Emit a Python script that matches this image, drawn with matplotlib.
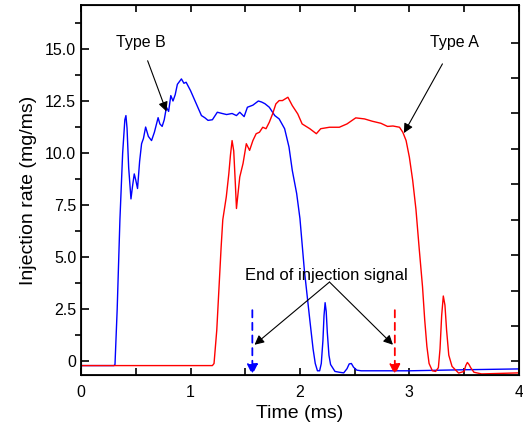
import matplotlib
matplotlib.use('Agg')
import numpy as np
import matplotlib.pyplot as plt

plt.rcParams['font.family'] = ['Liberation Sans', 'DejaVu Sans']

# Type B (blue) injection rate
t_b = [0.0, 0.30, 0.31, 0.33, 0.355, 0.38, 0.40, 0.41, 0.42, 0.435, 0.456, 0.47, 0.486, 0.50,
       0.516, 0.535, 0.553, 0.57, 0.59, 0.615, 0.644, 0.67, 0.704, 0.72, 0.741,
       0.76, 0.78, 0.80, 0.82, 0.84, 0.86, 0.88, 0.917, 0.94, 0.96, 1.0, 1.05,
       1.1, 1.13, 1.16, 1.2, 1.245, 1.29, 1.33, 1.38, 1.42, 1.45, 1.49, 1.52,
       1.57, 1.62, 1.65, 1.68, 1.72, 1.77, 1.81, 1.86, 1.9, 1.93, 1.97, 2.0,
       2.04, 2.09, 2.12, 2.14, 2.16, 2.18, 2.195, 2.21, 2.22, 2.23, 2.24, 2.25,
       2.265, 2.28, 2.32, 2.36, 2.4, 2.43, 2.45, 2.47, 2.49, 2.52, 2.56, 3.0, 3.5, 4.0]
q_b = [-0.2, -0.2, -0.15, 2.5, 6.8, 10.0, 11.6, 11.8, 11.2, 9.3, 7.8, 8.4, 9.0, 8.7,
       8.3, 9.6, 10.45, 10.7, 11.25, 10.8, 10.6, 11.0, 11.7, 11.4, 11.28,
       11.6, 12.2, 12.0, 12.76, 12.5, 12.8, 13.3, 13.56, 13.35, 13.4, 13.0, 12.4,
       11.8, 11.7, 11.57, 11.6, 11.96, 11.9, 11.85, 11.9, 11.8, 11.96, 11.75, 12.2,
       12.3, 12.5, 12.45, 12.37, 12.2, 11.8, 11.64, 11.17, 10.29, 9.17, 8.06, 6.86,
       4.4, 2.0, 0.6, -0.1, -0.45, -0.45, -0.1, 1.0, 2.2, 2.82, 2.4, 1.4,
       0.3, -0.15, -0.48, -0.52, -0.55, -0.35, -0.12, -0.1, -0.28, -0.42, -0.45, -0.45, -0.4, -0.36]

# Type A (red) injection rate
t_a = [0.0, 1.2, 1.215, 1.24, 1.26, 1.28, 1.295, 1.327, 1.35, 1.365, 1.38, 1.395, 1.41, 1.42,
       1.435, 1.45, 1.48, 1.51, 1.54, 1.57, 1.6, 1.63, 1.66, 1.69, 1.72, 1.75, 1.78,
       1.81, 1.84, 1.89, 1.93, 1.98, 2.02, 2.09, 2.15, 2.19, 2.27, 2.36, 2.43, 2.51,
       2.59, 2.66, 2.74, 2.8, 2.85, 2.91, 2.94, 2.97, 3.0, 3.03, 3.06, 3.09, 3.12,
       3.14, 3.16, 3.18, 3.21, 3.24, 3.265, 3.28, 3.295, 3.31, 3.325, 3.34, 3.36,
       3.39, 3.45, 3.5, 3.515, 3.53, 3.545, 3.56, 3.59, 3.66, 4.0]
q_a = [-0.2, -0.2, -0.1, 1.5, 3.5, 5.5, 6.8, 7.9, 9.0, 9.9, 10.6, 10.1, 8.5, 7.34,
       8.1, 8.85, 9.5, 10.45, 10.13, 10.6, 10.93, 11.0, 11.24, 11.17, 11.48, 11.88, 12.36,
       12.52, 12.52, 12.68, 12.28, 11.88, 11.4, 11.17, 10.93, 11.17, 11.24, 11.24, 11.4, 11.69,
       11.64, 11.53, 11.43, 11.28, 11.3, 11.24, 11.0, 10.6, 9.8, 8.7, 7.3, 5.4, 3.59,
       2.0, 0.72, -0.1, -0.45, -0.48, -0.3, 0.6, 2.2, 3.14, 2.7, 1.5, 0.3,
       -0.24, -0.56, -0.48, -0.2, -0.05, -0.15, -0.3, -0.52, -0.6, -0.55]

# end of injection signal times (ms)
eoi_b = 1.565
eoi_a = 2.867
eoi_top = 2.46

fig = plt.figure(figsize=(5.23, 4.30), dpi=100)
ax = fig.add_axes([0.155, 0.128, 0.837, 0.86])

ax.plot(t_b, q_b, color='#0000ff', lw=1.0)
ax.plot(t_a, q_a, color='#ff0000', lw=1.0)

ax.set_xlim(0, 4)
ax.set_ylim(-0.65, 17.1)
ax.set_xticks(np.arange(0, 4.01, 0.5))
ax.set_xticklabels(['0', '', '1', '', '2', '', '3', '', '4'])
ax.set_yticks(np.arange(0, 15.1, 2.5))
ax.set_yticklabels(['0', '2.5', '5.0', '7.5', '10.0', '12.5', '15.0'])
ax.set_yticks(np.arange(1.25, 17, 2.5), minor=True)
ax.tick_params(axis='both', direction='in', labelsize=11.5, width=1.2)
ax.tick_params(axis='y', which='major', length=6)
ax.tick_params(axis='y', which='minor', length=4, width=1.2)
ax.tick_params(axis='x', which='major', length=5, top=True, pad=7)
for s in ax.spines.values():
    s.set_linewidth(1.3)

ax2 = ax.twinx()
ax2.set_ylim(ax.get_ylim())
ax2.set_yticks(np.arange(0, 16, 1.7))
ax2.tick_params(axis='y', direction='in', length=6, width=1.2, labelright=False)

ax.set_xlabel('Time (ms)', fontsize=14, labelpad=4)
ax.set_ylabel('Injection rate (mg/ms)', fontsize=14, labelpad=6)

arrow = dict(arrowstyle='-|>', color='black', lw=0.8, mutation_scale=14)
ax.annotate('Type B', xy=(0.78, 12.0), xytext=(0.547, 15.3), fontsize=11.5,
            ha='center', va='center', arrowprops=dict(arrow, shrinkA=6, shrinkB=0))
ax.annotate('Type A', xy=(2.95, 10.96), xytext=(3.41, 15.3), fontsize=11.5,
            ha='center', va='center', arrowprops=dict(arrow, shrinkA=9, shrinkB=0))
ax.text(2.24, 4.1, 'End of injection signal', fontsize=12, ha='center', va='center')
for xt in (1.585, 2.85):
    ax.annotate('', xy=(xt, 0.8), xytext=(2.27, 3.81),
                arrowprops=dict(arrow, shrinkA=0, shrinkB=0))

for xe, c in ((eoi_b, '#0000ff'), (eoi_a, '#ff0000')):
    ax.annotate('', xy=(xe, -0.65), xytext=(xe, eoi_top),
                arrowprops=dict(arrowstyle='-|>', color=c, lw=1.3, ls=(0, (4, 3)),
                                mutation_scale=16, shrinkA=0, shrinkB=0))

fig.savefig('out.png', dpi=100)
